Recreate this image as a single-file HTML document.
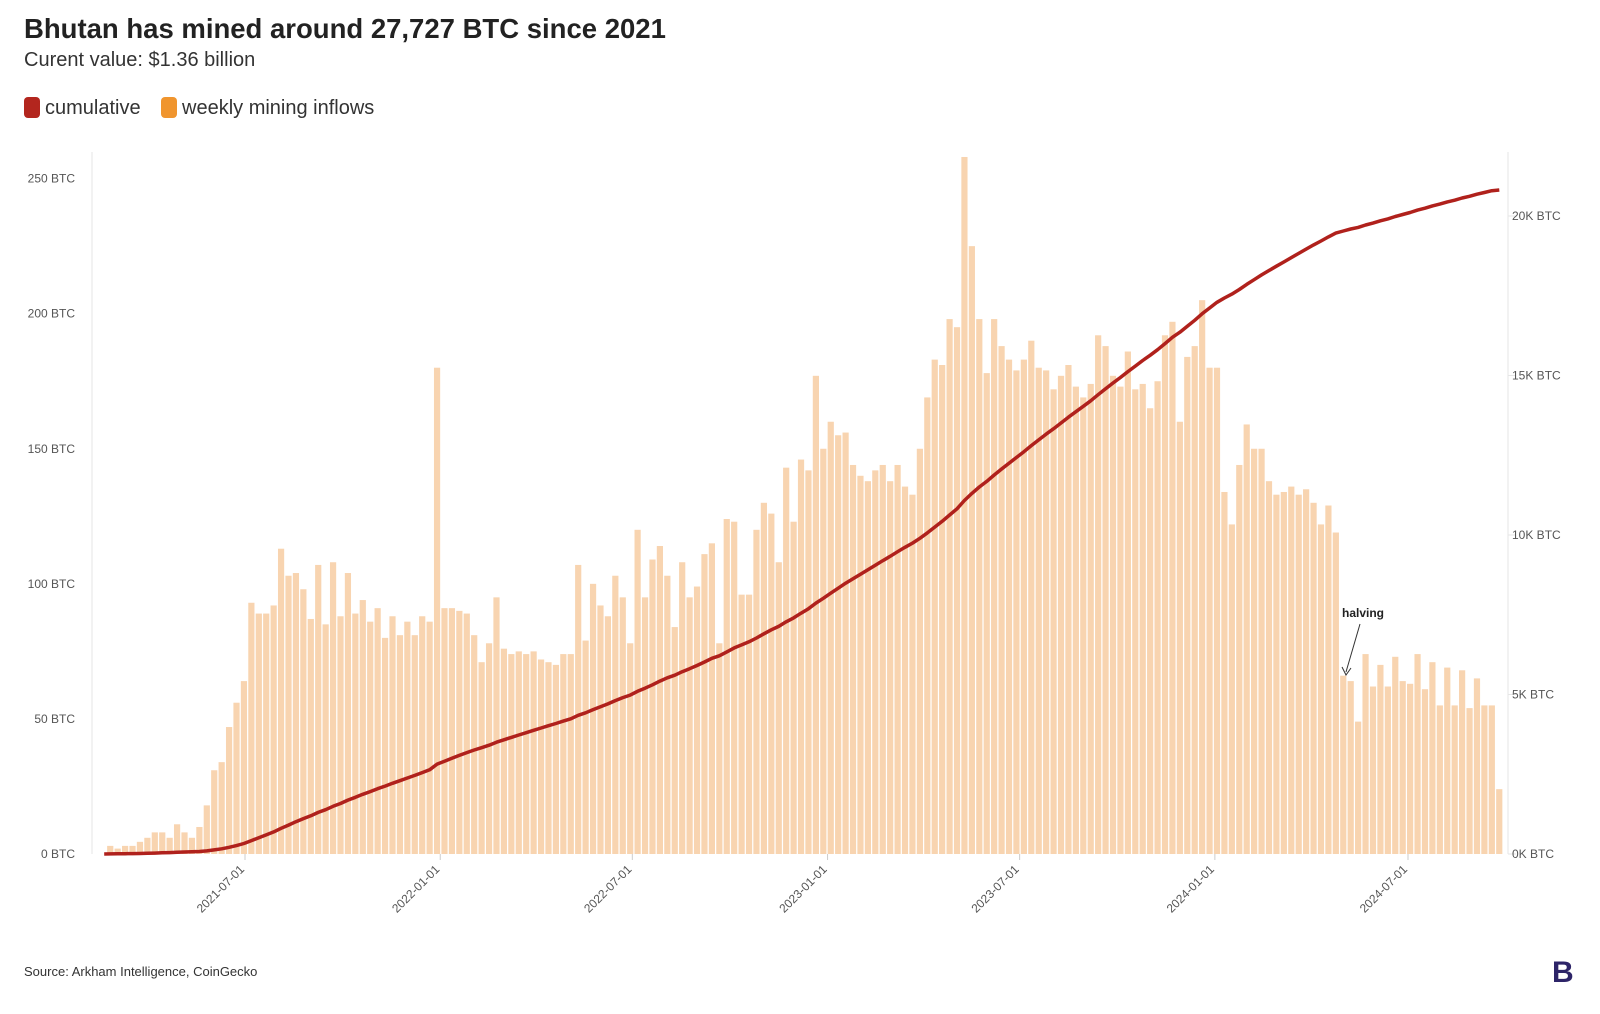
<!DOCTYPE html>
<html><head><meta charset="utf-8">
<style>
body{margin:0;background:#fff;font-family:"Liberation Sans",sans-serif;}
#wrap{position:relative;width:1600px;height:1014px;overflow:hidden;}
</style></head>
<body>
<div id="wrap">
<svg id="chart" width="1600" height="1014" xmlns="http://www.w3.org/2000/svg">
<text x="24" y="38" font-size="27.5" font-weight="bold" fill="#222">Bhutan has mined around 27,727 BTC since 2021</text>
<text x="24" y="66" font-size="20" fill="#333">Curent value: $1.36 billion</text>
<g>
<g><rect x="24" y="97" width="16" height="21" rx="4" fill="#b3261e"/><text x="45" y="114" font-size="20" fill="#333">cumulative</text></g>
<g><rect x="161" y="97" width="16" height="21" rx="4" fill="#f0952e"/><text x="182" y="114" font-size="20" fill="#333">weekly mining inflows</text></g>
</g>
<g id="axes"></g>
<g id="bars"></g>
<g id="line"></g>
<g>
<text x="1342" y="617" font-size="12" font-weight="bold" fill="#222">halving</text>
<line x1="1360" y1="624" x2="1346" y2="672" stroke="#333" stroke-width="1"/>
<path d="M1342,667 L1346,675 L1351,668" fill="none" stroke="#333" stroke-width="1"/>
</g>
<text x="24" y="976" font-size="13" fill="#333">Source: Arkham Intelligence, CoinGecko</text>
<text x="1552" y="982" font-size="30" font-weight="bold" fill="#2d2468">B</text>
</svg>
</div>
<script>
const weekly = [3,2,3,3,4.5,6,8,8,6,11,8,6,10,18,31,34,47,56,64,
93,89,89,92,113,103,104,98,87,107,85,108,88,104,89,94,86,91,80,88,81,86,81,88,86,180,
91,91,90,89,81,71,78,95,76,74,75,74,75,72,71,70,74,74,107,79,100,92,88,103,95,78,120,95,109,114,103,84,108,95,99,111,115,78,124,123,96,96,120,130,126,108,143,
123,146,142,177,150,160,155,156,144,140,138,142,144,138,144,136,133,150,169,183,181,198,195,258,225,198,178,198,188,183,179,183,190,180,179,172,177,181,173,169,174,192,188,177,173,186,172,
174,165,175,192,197,160,184,188,205,180,180,134,122,144,159,150,150,138,133,134,136,133,135,130,122,129,119,
66,64,49,74,62,70,62,73,64,63,74,61,71,55,69,55,68,54,65,55,55,24];
const leftTicks = [0,50,100,150,200,250];
const rightTicks = [0,5,10,15,20];
const dateTicks = ["2021-07-01","2022-01-01","2022-07-01","2023-01-01","2023-07-01","2024-01-01","2024-07-01"];
const startDate = "2021-02-24";

const NS="http://www.w3.org/2000/svg";
const DAY=86400000;
const t0=Date.parse("2021-07-01"), t1=Date.parse("2024-07-01");
function xDate(ms){return 245+(ms-t0)/(t1-t0)*(1408-245);}
function yL(v){return 854-v*(854-178.6)/250;}
function yR(k){return 854-k*(854-216)/20;}
function mk(tag,attrs,parent){const e=document.createElementNS(NS,tag);for(const k in attrs)e.setAttribute(k,attrs[k]);parent.appendChild(e);return e;}
const axes=document.getElementById('axes');
const l1=mk('line',{x1:92,y1:152,x2:92,y2:854,stroke:'#e6e6e6','stroke-width':1},axes);


const l2=mk('line',{x1:1508,y1:152,x2:1508,y2:854,stroke:'#e6e6e6','stroke-width':1},axes);


leftTicks.forEach(v=>{
  const t=mk('text',{x:75,y:yL(v)+4,'font-size':12,fill:'#555','text-anchor':'end'},axes);
  t.textContent=v+' BTC';
  
  
});
rightTicks.forEach(k=>{
  mk('line',{x1:1508,y1:yR(k),x2:1516,y2:yR(k),stroke:'#e6e6e6'},axes);
  const t=mk('text',{x:1512,y:yR(k)+4,'font-size':12,fill:'#555'},axes);
  t.textContent=k+'K BTC';
  
  
});
dateTicks.forEach(d=>{
  const x=xDate(Date.parse(d));
  mk('line',{x1:x,y1:854,x2:x,y2:860,stroke:'#ccc'},axes);
  const t=mk('text',{x:x,y:870,'font-size':12,fill:'#555','text-anchor':'end',transform:`rotate(-45 ${x} 870)`},axes);
  t.textContent=d;
  
  
});
const bars=document.getElementById('bars');
const s0=Date.parse(startDate);
const bw=6.2;
let cum=0;const pts=[[xDate(s0)-6,yR(0)]];
weekly.forEach((v,i)=>{
  const cx=xDate(s0+i*7*DAY);
  const r=mk('rect',{x:cx-bw/2,y:yL(v),width:bw,height:854-yL(v),fill:'#f8d4b0'},bars);
  
  
  cum+=v;
  pts.push([cx,yR(cum/1000)]);
});
const p=mk('polyline',{points:pts.map(q=>q[0].toFixed(1)+','+q[1].toFixed(1)).join(' '),fill:'none',stroke:'#b0211c','stroke-width':3.5,'stroke-linejoin':'round'},document.getElementById('line'));


</script>
</body></html>
